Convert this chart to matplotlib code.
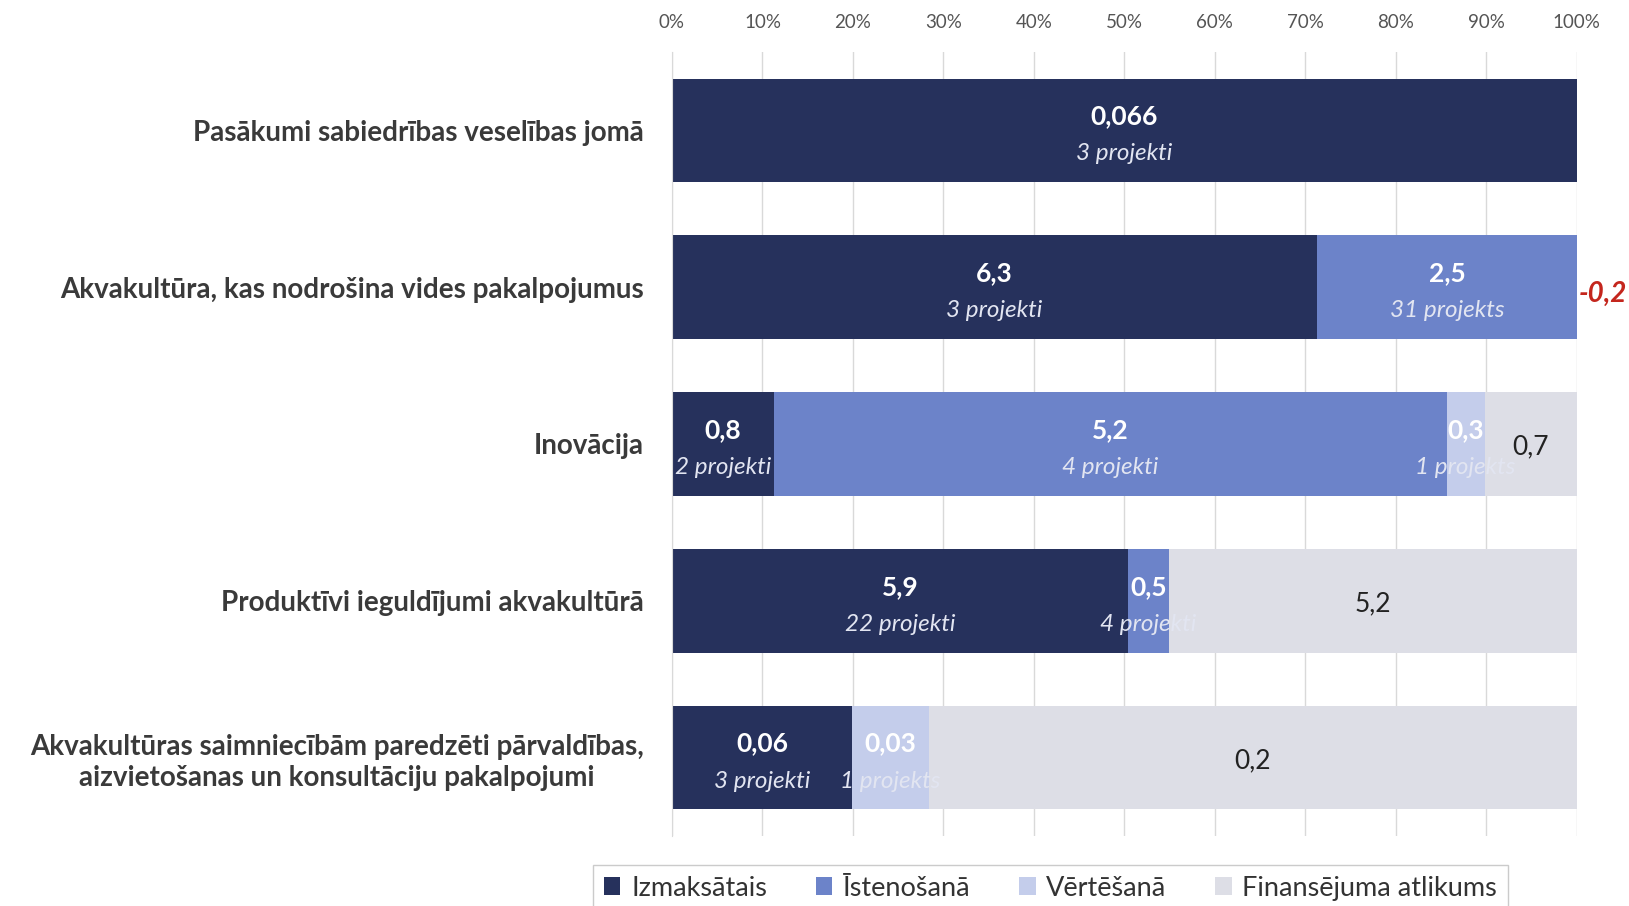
import matplotlib
matplotlib.use("Agg")
import matplotlib.pyplot as plt
from matplotlib.patches import Patch

plt.rcParams['font.family'] = ['Lato', 'DejaVu Sans']

# data (shares in % of each row)
categories = [
    "Pasākumi sabiedrības veselības jomā",
    "Akvakultūra, kas nodrošina vides pakalpojumus",
    "Inovācija",
    "Produktīvi ieguldījumi akvakultūrā",
    "Akvakultūras saimniecībām paredzēti pārvaldības,\naizvietošanas un konsultāciju pakalpojumi",
]
izmaksatais_pct = [100, 71.3, 11.3, 50.4, 19.9]
istenosana_pct = [0, 28.7, 74.3, 4.5, 0]
vertesana_pct = [0, 0, 4.2, 0, 8.5]
atlikums_pct = [0, 0, 10.2, 45.1, 71.6]

izm_values = ["0,066", "6,3", "0,8", "5,9", "0,06"]
izm_projects = ["3 projekti", "3 projekti", "2 projekti", "22 projekti", "3 projekti"]
ist_values = [None, "2,5", "5,2", "0,5", None]
ist_projects = [None, "31 projekts", "4 projekti", "4 projekti", None]
vert_values = [None, None, "0,3", None, "0,03"]
vert_projects = [None, None, "1 projekts", None, "1 projekts"]
atl_values = [None, None, "0,7", "5,2", "0,2"]
overrun = [None, "-0,2", None, None, None]

series_names = ["Izmaksātais", "Īstenošanā", "Vērtēšanā", "Finansējuma atlikums"]
colors = ["#26315c", "#6c83c9", "#c4cdeb", "#dddee6"]
xticks = [0, 10, 20, 30, 40, 50, 60, 70, 80, 90, 100]

fig = plt.figure(figsize=(16.29, 9.06), dpi=100, facecolor="white")
ax = fig.add_axes([0.4125, 0.0773, 0.5555, 0.8653])

y = list(range(len(categories)))
bar_h = 0.66
series = [izmaksatais_pct, istenosana_pct, vertesana_pct, atlikums_pct]
left = [0] * len(categories)
lefts = []
for vals, col in zip(series, colors):
    ax.barh(y, vals, left=left, height=bar_h, color=col, edgecolor="none", zorder=2)
    lefts.append(list(left))
    left = [l + v for l, v in zip(left, vals)]

val_kw = dict(ha="center", va="center", fontsize=19, fontweight="bold", color="white", zorder=3)
proj_kw = dict(ha="center", va="center", fontsize=17.5, fontstyle="italic", color="#e2e5f1", zorder=3)

labels = [(izm_values, izm_projects), (ist_values, ist_projects), (vert_values, vert_projects)]
for k, (vals_lab, proj_lab) in enumerate(labels):
    for i in y:
        cx = lefts[k][i] + series[k][i] / 2
        if vals_lab[i]:
            ax.text(cx, i - 0.09, vals_lab[i], **val_kw)
        if proj_lab[i]:
            ax.text(cx, i + 0.15, proj_lab[i], **proj_kw)

for i in y:
    if atl_values[i]:
        cx = lefts[3][i] + atlikums_pct[i] / 2
        ax.text(cx, i + 0.02, atl_values[i], ha="center", va="center",
                fontsize=19, color="#222222", zorder=3)
    if overrun[i]:
        ax.text(100.2, i + 0.04, overrun[i], ha="left", va="center", fontsize=20,
                fontweight="bold", fontstyle="italic", color="#c4261d",
                clip_on=False, zorder=3)

ax.set_xlim(0, 100)
ax.set_ylim(4.5, -0.5)
ax.set_xticks(xticks)
ax.set_xticklabels([f"{t}%" for t in xticks], fontsize=13.5, color="#555555")
ax.xaxis.tick_top()
ax.tick_params(axis="x", length=0, pad=15)
ax.set_yticks(y)
ax.set_yticklabels(categories, fontsize=20, fontweight="bold", color="#3a3a3a",
                   ha="right", multialignment="center", linespacing=1.25)
ax.tick_params(axis="y", length=0, pad=20)
ax.grid(axis="x", color="#d9d9d9", linewidth=1, zorder=0)
for s in ["top", "right", "bottom"]:
    ax.spines[s].set_visible(False)
ax.spines["left"].set_color("#d9d9d9")

handles = [Patch(facecolor=c, edgecolor="none") for c in colors]
leg = fig.legend(handles, series_names, loc="lower center", bbox_to_anchor=(0.645, -0.006),
                 ncol=4, frameon=True, fancybox=False, fontsize=19.5, handlelength=0.6,
                 handleheight=0.6, handletextpad=0.4, columnspacing=1.8,
                 borderpad=0.4, borderaxespad=0)
leg.get_frame().set_edgecolor("#bfbfbf")
for t in leg.get_texts():
    t.set_color("#333333")

fig.savefig("out.png", dpi=100, facecolor="white")
